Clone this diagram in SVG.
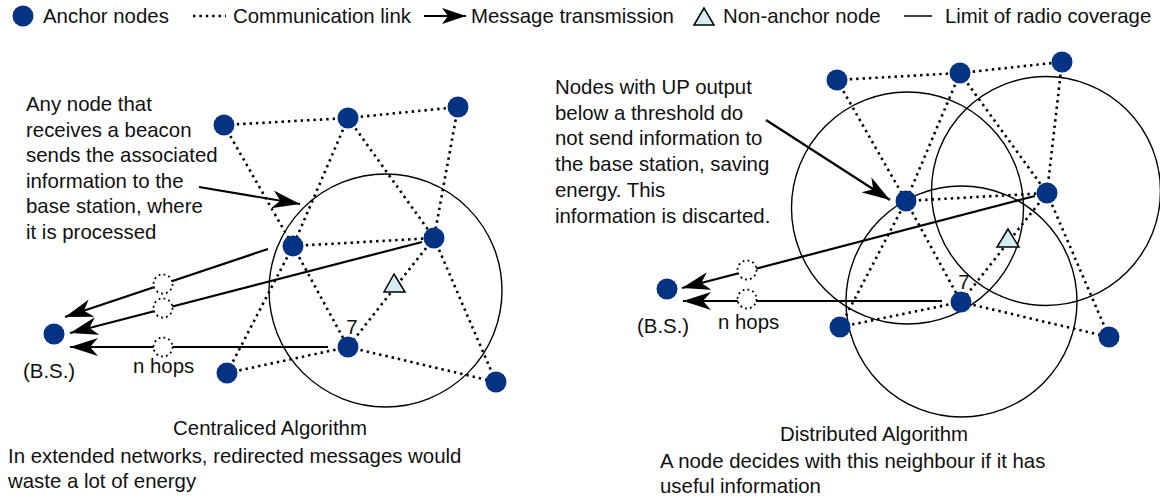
<svg xmlns="http://www.w3.org/2000/svg" width="1160" height="497" viewBox="0 0 1160 497">
<defs>
<marker id="ah" viewBox="0 0 28 18" refX="28" refY="9" markerWidth="28" markerHeight="18" markerUnits="userSpaceOnUse" orient="auto">
<path d="M0,0 L28,9 L0,18 L8,9 Z" fill="#000"/>
</marker>
<marker id="ahs" viewBox="0 0 24 16" refX="24" refY="8" markerWidth="24" markerHeight="16" markerUnits="userSpaceOnUse" orient="auto">
<path d="M0,0 L24,8 L0,16 L6,8 Z" fill="#000"/>
</marker>
<style>
text{font-family:"Liberation Sans",Arial,sans-serif;font-size:20.4px;fill:#111}
.node{fill:#033382}
.link{stroke:#000;stroke-width:2.6;stroke-dasharray:2.4 4;fill:none}
.msg{stroke:#000;stroke-width:2.2;fill:none;marker-end:url(#ah)}
.relay{fill:#fff;stroke:#000;stroke-width:1.8;stroke-dasharray:1.8 3.2}
.range{fill:none;stroke:#000;stroke-width:1.4}
.tri{fill:#d4ecf3;stroke:#000;stroke-width:1.5}
</style>
</defs>
<rect width="1160" height="497" fill="#fff"/>

<g id="legend">
<circle class="node" cx="23" cy="16" r="10.5"/>
<text x="43" y="23">Anchor nodes</text>
<line class="link" x1="193" y1="16" x2="226" y2="16"/>
<text x="233" y="23">Communication link</text>
<line x1="424" y1="16" x2="466" y2="16" stroke="#000" stroke-width="2" marker-end="url(#ahs)"/>
<text x="471" y="23">Message transmission</text>
<polygon class="tri" points="704,8 694,25 714,25"/>
<text x="723" y="23">Non-anchor node</text>
<line x1="904" y1="16" x2="932" y2="16" stroke="#000" stroke-width="1.5"/>
<text x="945" y="23">Limit of radio coverage</text>
</g>

<g id="coverage">
<circle class="range" cx="385.5" cy="290.5" r="116.5"/>
<circle class="range" cx="907.5" cy="208" r="116"/>
<circle class="range" cx="1046" cy="191" r="114.5"/>
<circle class="range" cx="961.5" cy="301.5" r="115.5"/>
</g>

<g id="connectors">
<line class="link" x1="224" y1="125" x2="348" y2="118"/>
<line class="link" x1="348" y1="118" x2="458" y2="107"/>
<line class="link" x1="224" y1="125" x2="293" y2="246"/>
<line class="link" x1="348" y1="118" x2="293" y2="246"/>
<line class="link" x1="348" y1="118" x2="434" y2="238"/>
<line class="link" x1="458" y1="107" x2="434" y2="238"/>
<line class="link" x1="293" y1="246" x2="434" y2="238"/>
<line class="link" x1="293" y1="246" x2="348" y2="347"/>
<line class="link" x1="434" y1="238" x2="348" y2="347"/>
<line class="link" x1="434" y1="238" x2="496" y2="382"/>
<line class="link" x1="348" y1="347" x2="227" y2="373"/>
<line class="link" x1="348" y1="347" x2="496" y2="382"/>
<line class="link" x1="227" y1="373" x2="293" y2="246"/>

<line class="link" x1="837" y1="80" x2="960" y2="73"/>
<line class="link" x1="960" y1="73" x2="1062" y2="62"/>
<line class="link" x1="837" y1="80" x2="906" y2="201"/>
<line class="link" x1="960" y1="73" x2="906" y2="201"/>
<line class="link" x1="960" y1="73" x2="1047" y2="193"/>
<line class="link" x1="1062" y1="62" x2="1047" y2="193"/>
<line class="link" x1="906" y1="201" x2="1047" y2="193"/>
<line class="link" x1="906" y1="201" x2="961" y2="302"/>
<line class="link" x1="1047" y1="193" x2="961" y2="302"/>
<line class="link" x1="1047" y1="193" x2="1109" y2="337"/>
<line class="link" x1="961" y1="302" x2="840" y2="327"/>
<line class="link" x1="961" y1="302" x2="1109" y2="337"/>
<line class="link" x1="840" y1="327" x2="906" y2="201"/>

<line class="msg" x1="268" y1="249" x2="65" y2="317"/>
<line class="msg" x1="422" y1="242" x2="70" y2="333"/>
<line class="msg" x1="328" y1="347" x2="70" y2="347"/>
<line class="msg" x1="1035" y1="196" x2="682" y2="288"/>
<line class="msg" x1="942" y1="301" x2="683" y2="301"/>
<line class="msg" x1="199" y1="187" x2="300" y2="204"/>
<line class="msg" x1="766" y1="120" x2="890" y2="200"/>

<circle class="relay" cx="163" cy="284" r="9.5"/>
<circle class="relay" cx="163" cy="308" r="9.5"/>
<circle class="relay" cx="163" cy="347" r="9.5"/>
<circle class="relay" cx="747" cy="270" r="9.5"/>
<circle class="relay" cx="747" cy="299" r="9.5"/>
</g>

<g id="left-bs"><circle class="node" cx="54" cy="334" r="10.5"/><text x="23" y="378">(B.S.)</text></g>
<g id="left-a"><circle class="node" cx="224" cy="125" r="10.5"/></g>
<g id="left-b"><circle class="node" cx="348" cy="118" r="10.5"/></g>
<g id="left-c"><circle class="node" cx="458" cy="107" r="10.5"/></g>
<g id="left-d"><circle class="node" cx="293" cy="246" r="10.5"/></g>
<g id="left-e"><circle class="node" cx="434" cy="238" r="10.5"/></g>
<g id="left-f"><circle class="node" cx="348" cy="347" r="10.5"/><text x="352" y="334" text-anchor="middle">7</text></g>
<g id="left-g"><circle class="node" cx="227" cy="373" r="10.5"/></g>
<g id="left-h"><circle class="node" cx="496" cy="382" r="10.5"/></g>
<g id="left-target"><polygon class="tri" points="394,274 384,292 405,292"/></g>

<g id="right-bs"><circle class="node" cx="667" cy="289" r="10.5"/><text x="637" y="333">(B.S.)</text></g>
<g id="right-p"><circle class="node" cx="837" cy="80" r="10.5"/></g>
<g id="right-q"><circle class="node" cx="960" cy="73" r="10.5"/></g>
<g id="right-r"><circle class="node" cx="1062" cy="62" r="10.5"/></g>
<g id="right-s"><circle class="node" cx="906" cy="201" r="10.5"/></g>
<g id="right-t"><circle class="node" cx="1047" cy="193" r="10.5"/></g>
<g id="right-u"><circle class="node" cx="961" cy="302" r="10.5"/><text x="964" y="289" text-anchor="middle">7</text></g>
<g id="right-v"><circle class="node" cx="840" cy="327" r="10.5"/></g>
<g id="right-w"><circle class="node" cx="1109" cy="337" r="10.5"/></g>
<g id="right-target"><polygon class="tri" points="1008,229 997,247 1019,247"/></g>

<g id="labels">
<text x="133" y="373">n hops</text>
<text x="718" y="329">n hops</text>
<text x="26" y="111">Any node that</text>
<text x="26" y="137">receives a beacon</text>
<text x="26" y="162">sends the associated</text>
<text x="26" y="188">information to the</text>
<text x="26" y="213">base station, where</text>
<text x="26" y="239">it is processed</text>
<text x="555" y="94">Nodes with UP output</text>
<text x="555" y="120">below a threshold do</text>
<text x="555" y="145">not send information to</text>
<text x="555" y="171">the base station, saving</text>
<text x="555" y="197">energy. This</text>
<text x="555" y="223">information is discarted.</text>
<text x="270" y="435" text-anchor="middle">Centraliced Algorithm</text>
<text x="8" y="463">In extended networks, redirected messages would</text>
<text x="8" y="488">waste a lot of energy</text>
<text x="874" y="441" text-anchor="middle">Distributed Algorithm</text>
<text x="660" y="468">A node decides with this neighbour if it has</text>
<text x="660" y="493">useful information</text>
</g>
</svg>
